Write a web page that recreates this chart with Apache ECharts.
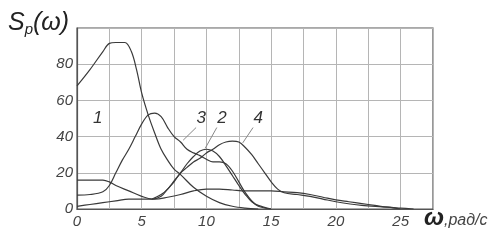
<!DOCTYPE html>
<html><head><meta charset="utf-8">
<script src="https://cdn.jsdelivr.net/npm/echarts@6/dist/echarts.min.js"></script>
<style>html,body{margin:0;padding:0;background:#fff}#c{width:502px;height:247px}</style>
</head><body><div id="c"></div>
<script>
// ω values (rad/s) and spectral density values for each curve
const w1 = [0, 1, 2, 2.5, 3, 3.7, 4.2, 4.6, 5, 5.5, 6, 6.5, 7, 7.5, 8, 9, 10, 11, 12, 13, 14];
const s1 = [68, 77, 87, 91.5, 92, 92, 87, 77, 64, 52, 42, 33, 27, 22, 19, 12, 7, 3.5, 1.5, 0.5, 0];

const w3 = [0, 1, 2, 2.5, 3, 3.5, 4, 4.5, 5, 5.5, 6, 6.5, 7, 7.5, 8, 8.5, 9, 9.5, 10, 10.5, 11, 11.5, 12, 12.5, 13, 13.5, 14, 15];
const s3 = [7.7, 8, 9.5, 13, 20, 27, 33, 40, 47, 52, 53, 51, 45, 40, 37, 33, 31, 29.5, 27.5, 26, 26, 25, 21, 15, 9, 4.5, 1.5, 0];

const w2 = [5.8, 6.5, 7, 7.5, 8, 8.5, 9, 9.5, 10, 10.5, 11, 11.5, 12, 12.5, 13, 13.5, 14, 15];
const s2 = [5.5, 8, 11, 15.5, 20, 25, 29, 32, 33, 32, 29, 24, 18.5, 13, 8, 4, 2, 0];

const w4 = [0, 1, 2, 2.5, 3, 4, 5, 5.8, 6.5, 7, 7.5, 8, 8.5, 9, 9.5, 10, 10.5, 11, 11.5, 12, 12.5, 13, 13.5, 14, 14.5, 15, 15.5, 16, 17, 18, 19, 20, 22, 24, 25];
const s4 = [16, 16, 16, 15, 13, 10, 7, 5.5, 7, 11, 15, 20, 23, 26, 28, 31, 33, 35.5, 37, 37.5, 37, 34, 30, 25, 20, 15, 11, 9, 8, 7, 5.5, 4, 2, 1, 0];

const w5 = [0, 1, 2, 3, 4, 5, 6, 7, 8, 9, 10, 11, 12, 13, 14, 15, 16, 17, 18, 19, 20, 21, 22, 23, 24, 25, 26];
const s5 = [1.5, 2.5, 3.5, 4.5, 5.5, 5.5, 5.5, 6.5, 8, 10, 11, 11, 10.5, 10, 10, 10, 9.5, 9, 8, 6.5, 5, 4, 3, 2, 1, 0.5, 0];

// axis ticks
const xTicks = [0, 5, 10, 15, 20, 25];
const yTicks = [0, 20, 40, 60, 80];

// curve labels: [text, labelX, labelY, lineFromX, lineFromY, lineToX, lineToY] in data units
const curveLabels = [
  ['1', 1.6, 50, null, null, null, null],
  ['3', 9.6, 50, 9.2, 45, 8.2, 38],
  ['2', 11.2, 50, 10.8, 45, 9.9, 33.5],
  ['4', 14.0, 50, 13.6, 45, 12.8, 36.5]
];

const zip = (a, b) => a.map((v, i) => [v, b[i]]);
const FONT = 'Liberation Sans';
const lineColor = '#3a3a3a';

const chart = echarts.init(document.getElementById('c'), null, {renderer: 'canvas'});
function mk(w, s) {
  return {type: 'line', data: zip(w, s), smooth: 0.35, showSymbol: false, symbol: 'none',
    lineStyle: {color: lineColor, width: 1.2}, z: 3, animation: false};
}
const option = {
  animation: false,
  backgroundColor: '#fff',
  grid: {left: 77, top: 28, right: 69, bottom: 38, show: true, borderColor: '#555', borderWidth: 1.2},
  xAxis: {
    type: 'value', min: 0, max: 27.5, interval: 2.5,
    axisLine: {show: true, lineStyle: {color: '#555', width: 1.2}},
    axisTick: {show: false},
    splitLine: {show: true, lineStyle: {color: '#b5b5b5', width: 1}},
    axisLabel: {
      margin: 5, color: '#444', fontFamily: FONT, fontStyle: 'italic', fontSize: 15,
      formatter: v => xTicks.includes(v) ? String(v) : ''
    }
  },
  yAxis: {
    type: 'value', min: 0, max: 100, interval: 20,
    axisLine: {show: true, lineStyle: {color: '#555', width: 1.2}},
    axisTick: {show: false},
    splitLine: {show: true, lineStyle: {color: '#b5b5b5', width: 1}},
    axisLabel: {
      margin: 4, color: '#444', fontFamily: FONT, fontStyle: 'italic', fontSize: 15,
      formatter: v => yTicks.includes(v) ? String(v) : ''
    }
  },
  series: [mk(w1, s1), mk(w3, s3), mk(w2, s2), mk(w4, s4), mk(w5, s5)]
};
chart.setOption(option);

const g = [];
curveLabels.forEach(([t, lx, ly, fx, fy, tx, ty]) => {
  const p = chart.convertToPixel({gridIndex: 0}, [lx, ly]);
  g.push({type: 'text', x: p[0], y: p[1], style: {text: t, fill: '#333', font: 'italic 17px "' + FONT + '"', textAlign: 'center', textVerticalAlign: 'middle'}, z: 10});
  if (fx !== null) {
    const a = chart.convertToPixel({gridIndex: 0}, [fx, fy]);
    const b = chart.convertToPixel({gridIndex: 0}, [tx, ty]);
    g.push({type: 'line', shape: {x1: a[0], y1: a[1], x2: b[0], y2: b[1]}, style: {stroke: '#888', lineWidth: 1}, z: 10});
  }
});
g.push({type: 'text', left: 8, top: 11, z: 10, style: {
  rich: {
    a: {fontSize: 25, fontFamily: FONT, fontStyle: 'italic', fill: '#222', fontWeight: 'normal'},
    b: {fontSize: 15, fontFamily: FONT, fontStyle: 'italic', fill: '#222', padding: [12, 0, 0, 0]}
  },
  text: '{a|S}{b|p}{a|(ω)}'
}});
g.push({type: 'text', left: 424, top: 206, z: 10, style: {
  rich: {
    a: {fontSize: 24, fontFamily: FONT, fontStyle: 'italic', fontWeight: 'bold', fill: '#222'},
    b: {fontSize: 16, fontFamily: FONT, fontStyle: 'italic', fill: '#444', padding: [6, 0, 0, 0]}
  },
  text: '{a|ω}{b|,рад/с}'
}});
chart.setOption({graphic: g});
</script>
</body></html>
